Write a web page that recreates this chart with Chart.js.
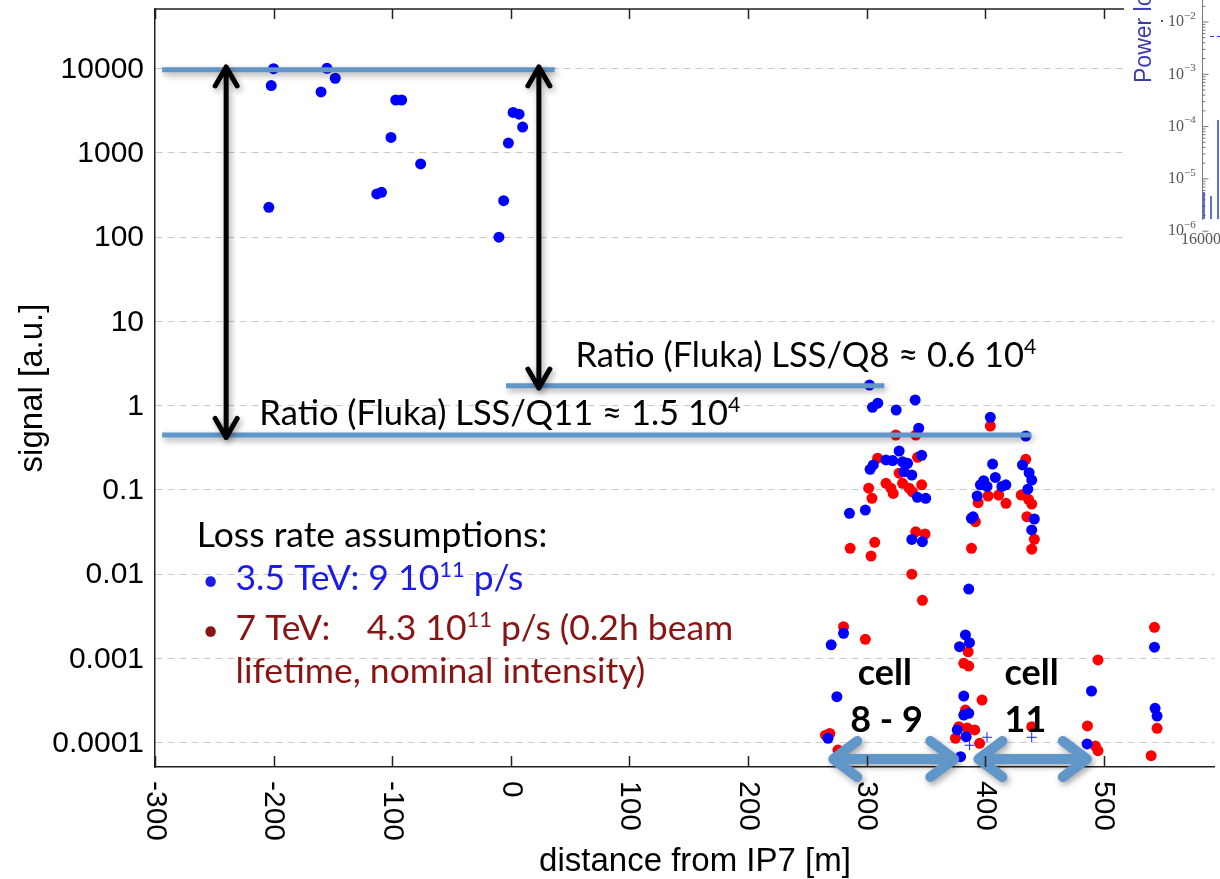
<!DOCTYPE html>
<html>
<head>
<meta charset="utf-8">
<script src="https://cdn.jsdelivr.net/npm/chart.js@4.4.1/dist/chart.umd.min.js"></script>
<style>
  html, body { margin: 0; padding: 0; background: #fff; }
  #wrap { width: 1220px; height: 879px; position: relative; }
</style>
</head>
<body>
<div id="wrap"><canvas id="chart"></canvas></div>
<script>
// Signal vs. distance from IP7.
// 3.5 TeV (blue)
var blueDist = [
  -200, -202, -155, -148, -160, -97, -92, -101, -76, -113, -109, -204, 2, 7, 10, -2, -6, -10,
  302.5, 305, 309.5, 325, 341, 344, 327.5, 346.5, 305.7, 303, 316.4, 322, 330.4, 334.6, 331.7, 338.2, 342.9, 349.9, 285.6, 299, 338.2, 347.1,
  404.4, 434.3, 406.3, 431.5, 437.1, 439.3, 398.8, 396, 401.6, 408.6, 414.1, 417.5, 393.3, 436, 389.9, 388.4, 441.5, 439.3, 386.2,
  280.6, 270.2, 275, 267.5, 383.4, 386.8, 378.4, 382, 386.2, 382, 376.5, 384, 379.3, 489.7, 486, 542.8, 543.3, 545
];
var blueSignal = [
  10000, 6300, 10100, 7700, 5300, 4250, 4250, 1530, 740, 326, 341, 226, 3030, 2880, 2030, 1310, 271, 100,
  1.76, 0.957, 1.07, 0.889, 1.17, 0.54, 0.29, 0.258, 0.198, 0.176, 0.227, 0.223, 0.216, 0.207, 0.165, 0.150, 0.0818, 0.0796, 0.0528, 0.0578, 0.0259, 0.0243,
  0.728, 0.437, 0.203, 0.198, 0.160, 0.131, 0.129, 0.115, 0.11, 0.141, 0.11, 0.115, 0.0848, 0.102, 0.048, 0.046, 0.0452, 0.0335, 0.00667,
  0.00199, 0.00145, 0.000352, 0.000113, 0.0019, 0.00154, 0.00138, 0.000358, 0.000223, 0.000213, 0.000142, 0.000118, 0.0000682, 0.000411, 0.0000966, 0.00136, 0.000256, 0.000207
];
// 7 TeV (red)
var redDist = [
  324.7, 341.5, 309.4, 343, 327.5, 316.4, 320.5, 322.5, 330.4, 335.9, 338.7, 346.5, 301.8, 304.6, 341.5, 349.3, 286.2, 306.9, 303.8, 338.2, 347.1,
  404.4, 434.3, 430.4, 436.6, 439.3, 394.1, 402.5, 411.4, 417.6, 391.8, 435.2, 441.5, 439.3, 388.5,
  280.6, 299, 269, 265.4, 275.9, 385.7, 382, 386.2, 397.4, 383.4, 377.8, 384.9, 391.2, 375, 395.4, 439.3, 495.2, 486.3, 493, 495.2, 542.8, 545, 540
];
var redSignal = [
  0.449, 0.449, 0.238, 0.244, 0.158, 0.12, 0.105, 0.091, 0.12, 0.105, 0.095, 0.115, 0.105, 0.0796, 0.0319, 0.030, 0.0203, 0.0239, 0.0164, 0.01, 0.0049,
  0.574, 0.231, 0.087, 0.0775, 0.068, 0.0706, 0.0848, 0.087, 0.0695, 0.042, 0.0482, 0.026, 0.0198, 0.0203,
  0.00238, 0.00169, 0.000129, 0.000123, 0.0000819, 0.0012, 0.000875, 0.000813, 0.000321, 0.000244, 0.000155, 0.00015, 0.000142, 0.000113, 0.0000984, 0.000155, 0.00096, 0.000158, 0.0000913, 0.0000804, 0.00234, 0.000148, 0.0000701
];
// small "+" markers near the bottom
var crossDist = [386.9, 401.6, 439.3];
var crossSignal = [0.0000933, 0.000116, 0.000116];

var xTicks = [-300, -200, -100, 0, 100, 200, 300, 400, 500];
var yTicks = [10000, 1000, 100, 10, 1, 0.1, 0.01, 0.001, 0.0001];
var yTickLabels = ['10000', '1000', '100', '10', '1', '0.1', '0.01', '0.001', '0.0001'];

// Fluka ratio levels: [signal, from, to]
var levelBars = [[9700, -294, 37], [1.73, -4, 315], [0.449, -294, 439]];
// vertical double arrows: [distance, top, bottom]
var ratioArrows = [[-240, 10500, 0.42], [23.7, 10500, 1.62]];
// cell spans along the bottom: [from, to], drawn at cellSpanLevel
var cellSpans = [[269.4, 376.5], [391.8, 488.3]];
var cellSpanLevel = 6.4e-5;

var AX_FONT = '"Liberation Sans", Arial, sans-serif';
var TXT_FONT = 'Lato, "Open Sans", sans-serif';
var BAR_BLUE = '#6196c9';

function toPts(xs, ys) {
  return xs.map(function (v, i) { return { x: v, y: ys[i] }; });
}

function drawParts(ctx, parts, x, y, size, weight, color) {
  var cx = x;
  parts.forEach(function (p) {
    var sup = p[1];
    var s = sup ? size * 0.62 : size;
    ctx.font = weight + ' ' + s + 'px ' + TXT_FONT;
    ctx.fillStyle = color;
    ctx.fillText(p[0], cx, sup ? y - size * 0.38 : y);
    cx += ctx.measureText(p[0]).width;
  });
}

// text annotations: parts, x (m), baseline (signal), size, weight, colour
var notes = [
  { parts: [['Ratio (Fluka) LSS/Q8 \u2248 0.6 10'], ['4', 1]], x: 54.6, y: 2.88, size: 34.5, w: 'normal', c: '#000' },
  { parts: [['Ratio (Fluka) LSS/Q11 \u2248 1.5 10'], ['4', 1]], x: -212, y: 0.59, size: 34.5, w: 'normal', c: '#000' },
  { parts: [['Loss rate assumptions:']], x: -264.8, y: 0.02104, size: 35.5, w: 'normal', c: '#000' },
  { parts: [['\u2022']], x: -260, y: 0.006488, size: 28, w: 'normal', c: '#1c1ce6' },
  { parts: [['3.5 TeV: 9 10'], ['11', 1], [' p/s']], x: -232.1, y: 0.006488, size: 35.5, w: 'normal', c: '#1c1ce6' },
  { parts: [['\u2022']], x: -260, y: 0.001656, size: 28, w: 'normal', c: '#8a1414' },
  { parts: [['7 TeV:    4.3 10'], ['11', 1], [' p/s (0.2h beam']], x: -232.1, y: 0.001656, size: 35.5, w: 'normal', c: '#8a1414' },
  { parts: [['lifetime, nominal intensity)']], x: -232.1, y: 0.000511, size: 35.5, w: 'normal', c: '#8a1414' },
  { parts: [['cell']], x: 292.6, y: 4.84e-4, size: 36, w: 'bold', c: '#000' },
  { parts: [['8 - 9']], x: 286.2, y: 1.34e-4, size: 36, w: 'bold', c: '#000' },
  { parts: [['cell']], x: 416.4, y: 4.84e-4, size: 36, w: 'bold', c: '#000' },
  { parts: [['11']], x: 416.4, y: 1.34e-4, size: 36, w: 'bold', c: '#000' }
];

function shadowOn(ctx) {
  ctx.shadowColor = 'rgba(0,0,0,0.35)';
  ctx.shadowBlur = 6;
  ctx.shadowOffsetX = 2;
  ctx.shadowOffsetY = 3;
}

var decorPlugin = {
  id: 'decor',
  afterDatasetsDraw: function (chart) {
    var ctx = chart.ctx, xs = chart.scales.x, ys = chart.scales.y;
    var px = function (v) { return xs.getPixelForValue(v); };
    var py = function (v) { return ys.getPixelForValue(v); };

    ctx.save();
    // level bars
    shadowOn(ctx);
    ctx.strokeStyle = BAR_BLUE;
    ctx.lineWidth = 5;
    levelBars.forEach(function (b) {
      ctx.beginPath();
      ctx.moveTo(px(b[1]), py(b[0]));
      ctx.lineTo(px(b[2]), py(b[0]));
      ctx.stroke();
    });

    // black double arrows
    ctx.strokeStyle = '#000';
    ctx.lineWidth = 5;
    ctx.lineCap = 'round';
    ctx.lineJoin = 'round';
    ratioArrows.forEach(function (a) {
      var x = px(a[0]), y0 = py(a[1]), y1 = py(a[2]);
      ctx.beginPath();
      ctx.moveTo(x, y0); ctx.lineTo(x, y1);
      ctx.moveTo(x - 11, y0 + 19); ctx.lineTo(x, y0); ctx.lineTo(x + 11, y0 + 19);
      ctx.moveTo(x - 11, y1 - 19); ctx.lineTo(x, y1); ctx.lineTo(x + 11, y1 - 19);
      ctx.stroke();
    });

    // blue cell arrows
    ctx.strokeStyle = BAR_BLUE;
    ctx.lineWidth = 10;
    cellSpans.forEach(function (s) {
      var x0 = px(s[0]), x1 = px(s[1]), y = py(cellSpanLevel);
      ctx.beginPath();
      ctx.moveTo(x0 + 4, y); ctx.lineTo(x1 - 4, y);
      ctx.moveTo(x0 + 27, y - 18); ctx.lineTo(x0 + 3, y); ctx.lineTo(x0 + 27, y + 18);
      ctx.moveTo(x1 - 27, y - 18); ctx.lineTo(x1 - 3, y); ctx.lineTo(x1 - 27, y + 18);
      ctx.stroke();
    });
    ctx.restore();

    // texts
    ctx.save();
    ctx.textAlign = 'left';
    ctx.textBaseline = 'alphabetic';
    notes.forEach(function (n) {
      drawParts(ctx, n.parts, px(n.x), py(n.y), n.size, n.w, n.c);
    });
    ctx.restore();
  },
  afterDraw: function (chart) {
    var ctx = chart.ctx, a = chart.chartArea, xs = chart.scales.x, ys = chart.scales.y;
    ctx.save();
    // top frame line and inward x ticks
    ctx.strokeStyle = '#222';
    ctx.lineWidth = 1.5;
    ctx.beginPath();
    ctx.moveTo(a.left, a.top); ctx.lineTo(a.right, a.top);
    xTicks.forEach(function (v) {
      var x = Math.round(xs.getPixelForValue(v)) + 0.5;
      ctx.moveTo(x, a.bottom); ctx.lineTo(x, a.bottom - 11);
      ctx.moveTo(x, a.top); ctx.lineTo(x, a.top + 10);
    });
    ctx.stroke();

    // y tick labels
    ctx.fillStyle = '#000';
    ctx.font = '30px ' + AX_FONT;
    ctx.textAlign = 'right';
    ctx.textBaseline = 'middle';
    yTicks.forEach(function (v, i) {
      ctx.fillText(yTickLabels[i], a.left - 11, ys.getPixelForValue(v) + 1);
    });

    // x tick labels, rotated clockwise
    ctx.textAlign = 'left';
    xTicks.forEach(function (v) {
      ctx.save();
      ctx.translate(xs.getPixelForValue(v), a.bottom + 14);
      ctx.rotate(Math.PI / 2);
      ctx.fillText(String(v), 0, 0);
      ctx.restore();
    });

    // axis titles
    ctx.font = '33px ' + AX_FONT;
    ctx.textAlign = 'center';
    ctx.textBaseline = 'alphabetic';
    ctx.fillText('distance from IP7 [m]', 695, 871);
    ctx.save();
    ctx.translate(42, (a.top + a.bottom) / 2);
    ctx.rotate(-Math.PI / 2);
    ctx.fillText('signal [a.u.]', 0, 0);
    ctx.restore();

    // corner of an overlapping figure (top right)
    ctx.fillStyle = '#fff';
    ctx.fillRect(1124, 0, 96, 256);
    ctx.fillStyle = '#3b3bb0';
    ctx.font = '23px ' + AX_FONT;
    ctx.textAlign = 'left';
    ctx.textBaseline = 'middle';
    ctx.save();
    ctx.translate(1145, 83);
    ctx.rotate(-Math.PI / 2);
    ctx.fillText('Power lo', 0, 0);
    ctx.restore();
    ctx.fillStyle = '#555';
    ['\u22122', '\u22123', '\u22124', '\u22125', '\u22126'].forEach(function (e, i) {
      var y = 22 + i * 52.3;
      ctx.font = '16px "Liberation Serif", serif';
      ctx.fillText('10', 1168, y);
      ctx.font = '11px "Liberation Serif", serif';
      ctx.fillText(e, 1184, y - 6);
    });
    ctx.fillRect(1161, 20, 2, 2);
    ctx.font = '16px "Liberation Serif", serif';
    ctx.fillText('16000', 1181, 240);
    ctx.strokeStyle = '#777';
    ctx.lineWidth = 1;
    ctx.beginPath();
    ctx.moveTo(1202.5, 0); ctx.lineTo(1202.5, 220);
    for (var d = 0; d < 5; d++) {
      for (var m = 1; m <= 9; m++) {
        var ty = 22 + d * 52.3 - Math.log10(m) * 52.3;
        if (ty < 0) continue;
        ctx.moveTo(1202.5, ty); ctx.lineTo(1202.5 + (m === 1 ? 6 : 3), ty);
      }
    }
    ctx.stroke();
    ctx.strokeStyle = '#2a3fd0';
    ctx.setLineDash([4, 3]);
    ctx.beginPath();
    ctx.moveTo(1210, 36.5); ctx.lineTo(1220, 36.5);
    ctx.stroke();
    ctx.setLineDash([]);
    ctx.lineWidth = 1.5;
    ctx.beginPath();
    ctx.moveTo(1204, 219); ctx.lineTo(1204, 192);
    ctx.moveTo(1211, 219); ctx.lineTo(1211, 196);
    ctx.moveTo(1218, 219); ctx.lineTo(1218, 120);
    ctx.stroke();
    ctx.restore();
  }
};

function build() {
  new Chart(document.getElementById('chart'), {
    type: 'scatter',
    data: {
      datasets: [
        {
          label: '3.5 TeV',
          data: toPts(blueDist, blueSignal),
          backgroundColor: '#0000ff',
          borderWidth: 0,
          pointRadius: 5.5
        },
        {
          label: '3.5 TeV (+)',
          data: toPts(crossDist, crossSignal),
          pointStyle: 'cross',
          borderColor: '#1a1aff',
          borderWidth: 1,
          pointRadius: 5
        },
        {
          label: '7 TeV',
          data: toPts(redDist, redSignal),
          backgroundColor: '#ff0000',
          borderWidth: 0,
          pointRadius: 5.5
        }
      ]
    },
    options: {
      responsive: true,
      maintainAspectRatio: false,
      animation: false,
      devicePixelRatio: 1,
      layout: { padding: { top: 9, right: 0, bottom: 0, left: 0 } },
      plugins: { legend: { display: false }, tooltip: { enabled: false } },
      scales: {
        x: {
          type: 'linear',
          min: -300,
          max: 593,
          afterFit: function (s) { s.height = 879 - 767; },
          ticks: { display: false, stepSize: 100 },
          grid: { display: false, drawTicks: false },
          border: { display: true, color: '#222', width: 1.5 }
        },
        y: {
          type: 'logarithmic',
          min: 5.15e-5,
          max: 5.11e4,
          afterFit: function (s) { s.width = 155; },
          afterBuildTicks: function (s) {
            s.ticks = yTicks.map(function (v) { return { value: v }; });
          },
          ticks: { display: false },
          grid: { color: '#c8c8c8', lineWidth: 1, drawTicks: false },
          border: { display: true, color: '#222', width: 1.5, dash: [7, 5] }
        }
      }
    },
    plugins: [decorPlugin]
  });
}

if (document.fonts && document.fonts.load) {
  Promise.all([
    document.fonts.load('30px Lato'),
    document.fonts.load('bold 30px Lato'),
    document.fonts.load('30px "Liberation Sans"'),
    document.fonts.load('15px "Liberation Serif"')
  ]).then(build, build);
} else {
  build();
}
</script>
</body>
</html>
